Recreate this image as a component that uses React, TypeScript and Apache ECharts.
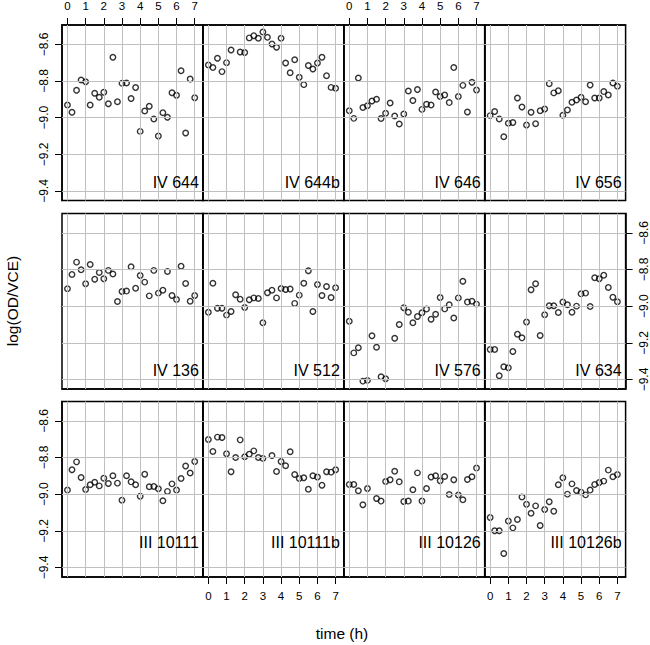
import React, { useEffect, useRef } from 'react';
import * as echarts from 'echarts';

const times = [0, 0.25, 0.5, 0.75, 1, 1.25, 1.5, 1.75, 2, 2.25, 2.5, 2.75, 3, 3.25, 3.5, 3.75, 4, 4.25, 4.5, 4.75, 5, 5.25, 5.5, 5.75, 6, 6.25, 6.5, 6.75, 7];
const xTicks = [0, 1, 2, 3, 4, 5, 6, 7];
const yTicks = [-9.4, -9.2, -9.0, -8.8, -8.6];

const panelNames = ['IV 644', 'IV 644b', 'IV 646', 'IV 656', 'IV 136', 'IV 512', 'IV 576', 'IV 634', 'III 10111', 'III 10111b', 'III 10126', 'III 10126b'];

const iv644 = [-8.931, -8.971, -8.851, -8.795, -8.804, -8.931, -8.867, -8.889, -8.862, -8.924, -8.671, -8.913, -8.813, -8.811, -8.896, -8.836, -9.075, -8.964, -8.938, -9.007, -9.100, -8.973, -8.998, -8.864, -8.878, -8.744, -9.084, -8.789, -8.891];
const iv644b = [-8.713, -8.727, -8.676, -8.749, -8.700, -8.631, null, -8.642, -8.645, -8.565, -8.553, -8.567, -8.533, -8.562, -8.598, -8.616, -8.567, -8.702, -8.755, -8.684, -8.780, -8.820, -8.716, -8.735, -8.702, -8.671, -8.771, -8.835, -8.840];
const iv646 = [-8.962, -9.004, -8.784, -8.945, -8.935, -8.909, -8.900, -9.005, -8.976, -8.920, -8.991, -9.035, -8.980, -8.855, -8.907, -8.847, -8.955, -8.927, -8.931, -8.860, -8.885, -8.876, -8.918, -8.727, -8.885, -8.824, -8.969, -8.807, -8.849];
const iv656 = [-8.989, -8.967, -9.007, -9.104, -9.031, -9.027, -8.893, -8.942, -9.040, -8.971, -9.033, -8.962, -8.953, -8.815, -8.865, -8.853, -8.987, -8.958, -8.916, -8.904, -8.889, -8.913, -8.822, -8.893, -8.893, -8.858, -8.876, -8.811, -8.829];
const iv136 = [-8.905, -8.827, -8.760, -8.802, -8.878, -8.773, -8.853, -8.816, -8.851, -8.805, -8.825, -8.975, -8.920, -8.918, -8.785, -8.902, -8.833, -8.869, -8.944, -8.805, -8.929, -8.913, -8.811, -8.942, -8.964, -8.782, -8.876, -8.973, -8.942];
const iv512 = [-9.033, -8.875, -9.011, -9.011, -9.049, -9.029, -8.938, -8.962, -9.007, -8.965, -8.955, -8.958, -9.091, -8.927, -8.913, -8.955, -8.904, -8.909, -8.907, -8.985, -8.940, -8.875, -8.807, -9.029, -8.882, -8.942, -8.893, -8.953, -8.900];
const iv576 = [-9.082, -9.255, -9.227, -9.409, -9.405, -9.162, -9.224, -9.385, -9.396, null, -9.175, -9.100, -9.009, -9.033, -9.091, -9.056, -9.036, -9.016, -9.071, -9.044, -8.953, -9.015, -8.993, -9.065, -8.955, -8.864, -8.978, -8.973, -8.989];
const iv634 = [-9.236, -9.236, -9.380, -9.331, -9.336, -9.247, -9.153, -9.173, -9.087, -8.911, -8.878, -9.160, -9.047, -8.998, -8.998, -9.035, -8.978, -8.993, -9.033, -9.000, -8.933, -8.929, -9.002, -8.845, -8.851, -8.831, -8.898, -8.951, -8.976];
const iii10111 = [-8.978, -8.867, -8.824, -8.909, -8.975, -8.949, -8.935, -8.955, -8.913, -8.942, -8.900, -8.940, -9.033, -8.900, -8.933, -8.949, -9.011, -8.891, -8.960, -8.958, -8.971, -9.036, -8.985, -8.944, -8.978, -8.915, -8.847, -8.885, -8.822];
const iii10111b = [-8.702, -8.767, -8.689, -8.691, -8.780, -8.878, -8.800, -8.704, -8.796, -8.782, -8.764, -8.800, -8.805, null, -8.789, -8.876, -8.822, -8.845, -8.769, -8.893, -8.915, -8.911, -8.973, -8.900, -8.907, -8.951, -8.878, -8.880, -8.867];
const iii10126 = [-8.947, -8.947, -8.982, -9.058, -8.969, null, -9.024, -9.038, -8.931, -8.922, -8.875, -8.933, -9.040, -9.038, -8.976, -8.884, -9.038, -8.969, -8.907, -8.900, -8.927, -8.904, -9.002, -8.922, -9.005, -9.031, -8.920, -8.905, -8.858];
const iii10126b = [-9.127, -9.200, -9.200, -9.324, -9.147, -9.184, -9.138, -9.016, -9.055, -9.104, -9.064, -9.171, -9.084, -9.042, -9.093, -8.949, -8.911, -9.000, -8.944, -8.980, -8.989, -9.004, -8.978, -8.947, -8.936, -8.929, -8.869, -8.905, -8.893];

const panelValues = [iv644, iv644b, iv646, iv656, iv136, iv512, iv576, iv634, iii10111, iii10111b, iii10126, iii10126b];

const FONT = '"Liberation Sans", Arial, Helvetica, sans-serif';
const LEFT = 62;
const COLW = 140.9;
const TOPS = [25, 213.5, 401.5];
const H = 175.5;
const XMIN = -0.3;
const XMAX = 7.45;
const YMAX = -8.4947;
const YMIN = -9.452;
const LABEL_OFFSETS = [18.5, 18.5, 35];

const fmtY = (v: number) => (v < 0 ? '\u2212' : '') + Math.abs(v).toFixed(1);

export default function App() {
  const ref = useRef<HTMLDivElement>(null);
  useEffect(() => {
    if (!ref.current) return;
    const chart = echarts.init(ref.current, null, { renderer: 'svg' });
    const grids: any[] = [];
    const xAxes: any[] = [];
    const yAxes: any[] = [];
    const series: any[] = [];
    const graphics: any[] = [];
    for (let i = 0; i < 12; i++) {
      const r = Math.floor(i / 4);
      const c = i % 4;
      const left = LEFT + c * COLW;
      const top = TOPS[r];
      grids.push({
        left, top, width: COLW, height: H,
        show: true, borderColor: '#000', borderWidth: 1.5,
        backgroundColor: 'transparent', containLabel: false, outerBoundsMode: 'none',
      });
      const showX = (r === 0 && (c === 0 || c === 2)) || (r === 2 && (c === 1 || c === 3));
      const showY = (r !== 1 && c === 0) || (r === 1 && c === 3);
      xAxes.push({
        type: 'value', gridIndex: i, min: XMIN, max: XMAX,
        position: r === 0 ? 'top' : 'bottom',
        axisLine: { show: true, onZero: false, lineStyle: { color: '#000', width: 1.5 } },
        axisTick: { show: showX, customValues: xTicks, length: 7, lineStyle: { color: '#000', width: 1 } },
        axisLabel: { show: showX, customValues: xTicks, fontSize: 11.5, color: '#000', fontFamily: FONT, margin: 13 },
        splitLine: { show: false },
      });
      yAxes.push({
        type: 'value', gridIndex: i, min: YMIN, max: YMAX,
        position: r === 1 ? 'right' : 'left',
        axisLine: { show: true, onZero: false, lineStyle: { color: '#000', width: 1.5 } },
        axisTick: { show: showY, customValues: yTicks, length: 7, lineStyle: { color: '#000', width: 1 } },
        axisLabel: { show: showY, customValues: yTicks, rotate: 90, fontSize: 12, color: '#000', fontFamily: FONT, margin: 12, formatter: fmtY },
        splitLine: { show: false },
      });
      const vals = panelValues[i];
      const data: number[][] = [];
      times.forEach((t, k) => {
        const v = vals[k];
        if (v !== null && v !== undefined) data.push([t, v]);
      });
      series.push({
        type: 'scatter', xAxisIndex: i, yAxisIndex: i, data,
        symbol: 'circle', symbolSize: 5.5, z: 3,
        itemStyle: { color: 'rgba(0,0,0,0)', borderColor: '#000', borderWidth: 1.4 },
        markLine: {
          silent: true, symbol: ['none', 'none'], label: { show: false },
          lineStyle: { color: '#c0c0c0', width: 1, type: 'solid' },
          emphasis: { disabled: true },
          data: [...xTicks.map((v) => ({ xAxis: v })), ...yTicks.map((v) => ({ yAxis: v }))],
        },
      });
      graphics.push({
        type: 'text', x: left + COLW - 4, y: top + H - LABEL_OFFSETS[r], z: 10,
        style: { text: panelNames[i], fontSize: 16, fontFamily: FONT, fill: '#000', align: 'right', verticalAlign: 'middle' },
      });
    }
    graphics.push({
      type: 'text', x: 12, y: 301, rotation: Math.PI / 2,
      style: { text: 'log(OD/VCE)', fontSize: 15.5, fontFamily: FONT, fill: '#000', align: 'center', verticalAlign: 'middle' },
    });
    graphics.push({
      type: 'text', x: 342, y: 633,
      style: { text: 'time (h)', fontSize: 15.5, fontFamily: FONT, fill: '#000', align: 'center', verticalAlign: 'middle' },
    });
    chart.setOption({
      animation: false,
      backgroundColor: '#fff',
      grid: grids,
      xAxis: xAxes,
      yAxis: yAxes,
      series,
      graphic: graphics,
    });
    return () => chart.dispose();
  }, []);
  return <div ref={ref} style={{ position: 'fixed', left: 0, top: 0, width: 650, height: 645, background: '#fff' }} />;
}
